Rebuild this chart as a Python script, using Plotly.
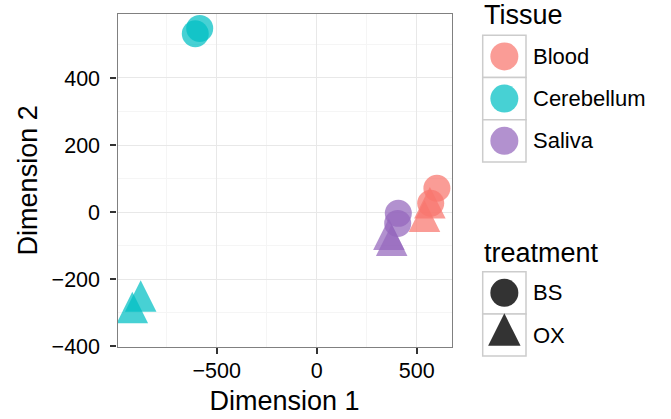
import plotly.graph_objects as go

# ---------------- data ----------------
tissues = ["Blood", "Cerebellum", "Saliva"]
treatments = ["BS", "OX"]
tissue_colors = ["#F8766D", "#00BFC4", "#9467BD"]

sample_tissue = ["Blood", "Blood", "Blood", "Blood",
                 "Cerebellum", "Cerebellum", "Cerebellum", "Cerebellum",
                 "Saliva", "Saliva", "Saliva", "Saliva"]
sample_treatment = ["BS", "BS", "OX", "OX",
                    "BS", "BS", "OX", "OX",
                    "BS", "BS", "OX", "OX"]
dim1 = [601, 570, 566, 539, -607, -585, -880, -922, 408, 405, 361, 375]
dim2 = [71, 26, 12, -28, 532, 548, -266, -301, -4, -34, -82, -100]

x_ticks = [-500, 0, 500]
y_ticks = [-400, -200, 0, 200, 400]

# ---------------- layout constants (pixels) ----------------
W, H = 671, 419
PL, PR, PT, PB = 117.5, 451.7, 14.0, 346.7
FONT = "Liberation Sans, Arial, Helvetica, sans-serif"
ALPHA = 0.72
CIRCLE_SIZE = 27
TRI_SIZE = 31.5

KEY_X0, KEY_W = 482.7, 43.3
TISSUE_Y0, TREAT_Y0, ROW_H = 35.3, 271.7, 42.2
LABEL_X = 530.5


def tri_marker(size, color, opacity=1.0):
    # equilateral triangle (pointing up) centred on its centroid
    return dict(symbol="arrow-down", angle=180, size=size, color=color, opacity=opacity,
                line=dict(width=0), standoff=size * 2 / 3)


fig = go.Figure()

for tis, col in zip(tissues, tissue_colors):
    for trt in treatments:
        xs = [x for x, t, r in zip(dim1, sample_tissue, sample_treatment) if t == tis and r == trt]
        ys = [y for y, t, r in zip(dim2, sample_tissue, sample_treatment) if t == tis and r == trt]
        if trt == "BS":
            marker = dict(symbol="circle", size=CIRCLE_SIZE, color=col, opacity=ALPHA,
                          line=dict(width=0))
        else:
            marker = tri_marker(TRI_SIZE, col, ALPHA)
        fig.add_trace(go.Scatter(x=xs, y=ys, mode="markers", marker=marker,
                                 name=f"{tis} {trt}", showlegend=False,
                                 xaxis="x", yaxis="y"))

# ---------------- manual legend ----------------
leg_x = KEY_X0 + KEY_W / 2
t_rows = [TISSUE_Y0 + ROW_H * (i + 0.5) for i in range(len(tissues))]
r_rows = [TREAT_Y0 + ROW_H * (i + 0.5) for i in range(len(treatments))]

fig.add_trace(go.Scatter(
    x=[leg_x] * len(tissues), y=t_rows, mode="markers",
    marker=dict(symbol="circle", size=CIRCLE_SIZE + 1, color=tissue_colors,
                opacity=ALPHA, line=dict(width=0)),
    showlegend=False, hoverinfo="skip", xaxis="x2", yaxis="y2", cliponaxis=False))
fig.add_trace(go.Scatter(
    x=[leg_x], y=[r_rows[0]], mode="markers",
    marker=dict(symbol="circle", size=CIRCLE_SIZE + 1, color="#333333", line=dict(width=0)),
    showlegend=False, hoverinfo="skip", xaxis="x2", yaxis="y2", cliponaxis=False))
fig.add_trace(go.Scatter(
    x=[leg_x], y=[r_rows[1]], mode="markers",
    marker=tri_marker(TRI_SIZE + 1, "#333333"),
    showlegend=False, hoverinfo="skip", xaxis="x2", yaxis="y2", cliponaxis=False))

shapes = []
for y0 in [TISSUE_Y0 + ROW_H * i for i in range(len(tissues))] + \
          [TREAT_Y0 + ROW_H * i for i in range(len(treatments))]:
    shapes.append(dict(type="rect", xref="x2", yref="y2", x0=KEY_X0, x1=KEY_X0 + KEY_W,
                       y0=y0, y1=y0 + ROW_H, line=dict(color="#CCCCCC", width=1.5),
                       fillcolor="white", layer="below"))

annotations = []
annotations.append(dict(text="Tissue", xref="x2", yref="y2", x=KEY_X0 - 1, y=15,
                        xanchor="left", yanchor="middle", showarrow=False,
                        font=dict(family=FONT, size=27, color="black")))
annotations.append(dict(text="treatment", xref="x2", yref="y2", x=KEY_X0 - 1, y=253,
                        xanchor="left", yanchor="middle", showarrow=False,
                        font=dict(family=FONT, size=27, color="black")))
for lab, yy in zip(tissues, t_rows):
    annotations.append(dict(text=lab, xref="x2", yref="y2", x=LABEL_X, y=yy,
                            xanchor="left", yanchor="middle", showarrow=False,
                            font=dict(family=FONT, size=22, color="black")))
for lab, yy in zip(treatments, r_rows):
    annotations.append(dict(text=lab, xref="x2", yref="y2", x=LABEL_X, y=yy,
                            xanchor="left", yanchor="middle", showarrow=False,
                            font=dict(family=FONT, size=22, color="black")))

axis_common = dict(
    showline=True, mirror=True, linecolor="#808080", linewidth=1.3,
    ticks="outside", ticklen=6, tickwidth=1.6, tickcolor="#333333",
    showgrid=True, gridcolor="#E8E8E8", gridwidth=1.1, zeroline=False,
    tickfont=dict(family=FONT, size=21.5, color="black"),
    automargin=False,
)

fig.update_layout(
    width=W, height=H,
    margin=dict(l=0, r=0, t=0, b=0),
    paper_bgcolor="white", plot_bgcolor="white",
    showlegend=False,
    font=dict(family=FONT),
    xaxis=dict(domain=[PL / W, PR / W], range=[-996, 675],
               tickmode="array", tickvals=x_ticks,
               minor=dict(dtick=250, tick0=0, showgrid=True, gridcolor="#F5F5F5", gridwidth=1, ticks=""),
               title=dict(text="Dimension 1", font=dict(family=FONT, size=27, color="black"), standoff=9),
               ticklabelstandoff=-2,
               anchor="y", **axis_common),
    yaxis=dict(domain=[1 - PB / H, 1 - PT / H], range=[-402, 591],
               tickmode="array", tickvals=y_ticks,
               minor=dict(dtick=100, tick0=0, showgrid=True, gridcolor="#F5F5F5", gridwidth=1, ticks=""),
               title=dict(text="Dimension 2", font=dict(family=FONT, size=27, color="black"), standoff=6),
               ticklabelstandoff=6,
               anchor="x", **axis_common),
    xaxis2=dict(domain=[475 / W, 1], range=[475, W], visible=False, anchor="y2", fixedrange=True),
    yaxis2=dict(domain=[0, 1], range=[H, 0], visible=False, anchor="x2", fixedrange=True),
    shapes=shapes,
    annotations=annotations,
)

fig.write_html("out.html")
